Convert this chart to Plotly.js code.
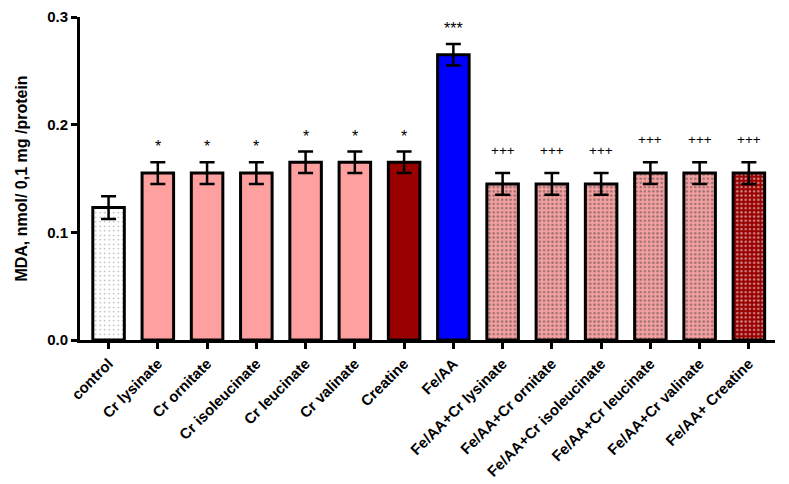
<!DOCTYPE html>
<html>
<head>
<meta charset="utf-8">
<script src="https://cdn.plot.ly/plotly-3.0.1.min.js"></script>
<style>html,body{margin:0;padding:0;background:#fff;}#chart{width:789px;height:484px;}</style>
</head>
<body>
<div id="chart"></div>
<script>
const categories = ["control","Cr lysinate","Cr ornitate","Cr isoleucinate","Cr leucinate","Cr valinate","Creatine","Fe/AA","Fe/AA+Cr lysinate","Fe/AA+Cr ornitate","Fe/AA+Cr isoleucinate","Fe/AA+Cr leucinate","Fe/AA+Cr valinate","Fe/AA+ Creatine"];
const mdaValues = [0.123,0.155,0.155,0.155,0.165,0.165,0.165,0.265,0.145,0.145,0.145,0.155,0.155,0.155];
const mdaErrors = [0.0105,0.01,0.01,0.01,0.01,0.01,0.01,0.01,0.01,0.01,0.01,0.01,0.01,0.01];
const significance = ["","*","*","*","*","*","*","***","+++","+++","+++","+++","+++","+++"];

const fillColors = ["#ffffff","#ffa0a0","#ffa0a0","#ffa0a0","#ffa0a0","#ffa0a0","#990000","#0000ff","#f4a0a0","#f4a0a0","#f4a0a0","#f4a0a0","#f4a0a0","#990000"];
const styleGroup = ["dots","solid","solid","solid","solid","solid","solid","solid","teal","teal","teal","teal","teal","teal"];

const FONT = "Liberation Sans, Arial, sans-serif";

const groupStyles = {
  dots: {shape: ".", fg: "#000000", size: 4.5, solidity: 0.09},
  solid: {shape: "", fg: "#000000", size: 4, solidity: 0.2},
  teal: {shape: ".", fg: "#2a6668", size: 4.2, solidity: 0.3}
};

const traces = Object.keys(groupStyles).map(g => {
  const idx = categories.map((c, i) => i).filter(i => styleGroup[i] === g);
  const st = groupStyles[g];
  return {
    type: "bar",
    x: idx.map(i => categories[i]),
    y: idx.map(i => mdaValues[i]),
    width: 0.64,
    marker: {
      color: idx.map(i => fillColors[i]),
      line: {color: "#000", width: 3},
      pattern: {shape: st.shape, fgcolor: st.fg, size: st.size, solidity: st.solidity, fillmode: "overlay"}
    },
    error_y: {type: "data", array: idx.map(i => mdaErrors[i]), visible: true, color: "#000", thickness: 2.5, width: 7.5},
    hoverinfo: "none"
  };
});

const annotations = categories.map((c, i) => {
  const star = significance[i].indexOf("*") >= 0;
  return {
    x: c, y: mdaValues[i] + mdaErrors[i], text: significance[i],
    showarrow: false, yanchor: "bottom", yshift: star ? 5 : 13,
    font: {family: FONT, size: star ? 16 : 13.5, color: "#000"}
  };
}).filter(a => a.text);

const layout = {
  width: 789, height: 484,
  margin: {l: 80, r: 14, t: 17, b: 144},
  paper_bgcolor: "#fff", plot_bgcolor: "#fff",
  showlegend: false,
  barmode: "overlay",
  font: {family: FONT, color: "#000"},
  xaxis: {
    type: "category", categoryorder: "array", categoryarray: categories,
    range: [-0.58, 13.53],
    showline: true, linewidth: 3, linecolor: "#000",
    ticks: "outside", ticklen: 6, tickwidth: 3, tickcolor: "#000",
    tickangle: -45, showgrid: false, zeroline: false,
    tickfont: {size: 15, family: FONT, weight: "bold"}
  },
  yaxis: {
    range: [0, 0.3], tickvals: [0, 0.1, 0.2, 0.3], tickformat: ".1f",
    showline: true, linewidth: 3, linecolor: "#000",
    ticks: "outside", ticklen: 6, tickwidth: 3, tickcolor: "#000",
    showgrid: false, zeroline: false,
    tickfont: {size: 15, family: FONT, weight: "bold"},
    title: {text: "MDA, nmol/ 0,1 mg /protein", standoff: 16, font: {size: 16, family: FONT, weight: "bold"}}
  },
  annotations: annotations
};

Plotly.newPlot("chart", traces, layout, {displayModeBar: false, staticPlot: true});
</script>
</body>
</html>
